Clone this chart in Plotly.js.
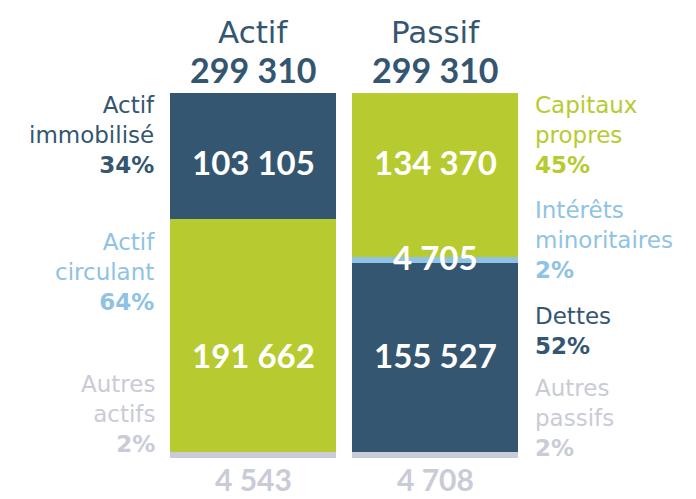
<!DOCTYPE html>
<html><head><meta charset="utf-8">
<script src="https://cdn.plot.ly/plotly-3.0.1.min.js"></script>
<style>html,body{margin:0;padding:0;background:#fff}</style>
</head><body><div id="chart" style="width:696px;height:499px"></div>
<script>
// ---- data ----
const columns = ['Actif', 'Passif'];
const actifSegments = ['Autres actifs', 'Actif circulant', 'Actif immobilisé'];
const actifValues = [4543, 191662, 103105];
const passifSegments = ['Autres passifs', 'Dettes', 'Intérêts minoritaires', 'Capitaux propres'];
const passifValues = [4708, 155527, 4705, 134370];
const leftLabels = [['Actif', 'immobilisé', '34%'], ['Actif', 'circulant', '64%'], ['Autres', 'actifs', '2%']];
const rightLabels = [['Capitaux', 'propres', '45%'], ['Intérêts', 'minoritaires', '2%'], ['Dettes', '52%'], ['Autres', 'passifs', '2%']];

// ---- style ----
const DARK = '#345670', GREEN = '#b7cb30', LBLUE = '#8fc2e4', GRAY = '#c9cbd6';
const actifColors = [GRAY, GREEN, DARK];
const passifColors = [GRAY, DARK, LBLUE, GREEN];
const leftColors = [DARK, LBLUE, GRAY];
const rightColors = [GREEN, LBLUE, DARK, GRAY];
const actifShift = [0, -19, -6];
const passifShift = [0, 2, 3, 13];
const NUMFONT = 'Lato, "DejaVu Sans", sans-serif';
const LABFONT = '"DejaVu Sans", Lato, sans-serif';
const fmt = v => String(v).replace(/\B(?=(\d{3})+(?!\d))/g, ' ');

const W = 696, H = 499, M = {l: 162, r: 170, t: 93, b: 41};
const ph = H - M.t - M.b, pw = W - M.l - M.r;
const pyP = p => (H - M.b - p) / ph;
const pxP = p => (p - M.l) / pw;

const traces = [];
actifSegments.forEach((s, i) => traces.push({type: 'bar', x: ['Actif'], y: [actifValues[i]], name: s,
  marker: {color: actifColors[i], line: {width: 0}}, width: 0.917, hoverinfo: 'none'}));
passifSegments.forEach((s, i) => traces.push({type: 'bar', x: ['Passif'], y: [passifValues[i]], name: s,
  marker: {color: passifColors[i], line: {width: 0}}, width: 0.917, hoverinfo: 'none'}));

const ann = [];
function cum(vals) { let c = 0; return vals.map(v => { const m = c + v / 2; c += v; return m; }); }
const aMid = cum(actifValues), pMid = cum(passifValues);
const inFont = {family: NUMFONT, size: 33, color: '#fff'};
[1, 2].forEach(i => ann.push({x: 'Actif', y: aMid[i], xref: 'x', yref: 'y', yanchor: 'middle', yshift: actifShift[i],
  text: '<b>' + fmt(actifValues[i]) + '</b>', showarrow: false, font: inFont}));
[1, 2, 3].forEach(i => ann.push({x: 'Passif', y: pMid[i], xref: 'x', yref: 'y', yanchor: 'middle', yshift: passifShift[i],
  text: '<b>' + fmt(passifValues[i]) + '</b>', showarrow: false, font: inFont}));
// bottom "autres" values
const botFont = {family: NUMFONT, size: 30, color: GRAY};
ann.push({x: 'Actif', y: 0, xref: 'x', yref: 'y', yanchor: 'top', yshift: -1, text: '<b>' + fmt(actifValues[0]) + '</b>',
  showarrow: false, font: botFont});
ann.push({x: 'Passif', y: 0, xref: 'x', yref: 'y', yanchor: 'top', yshift: -1, text: '<b>' + fmt(passifValues[0]) + '</b>',
  showarrow: false, font: botFont});
// headers
const totA = actifValues.reduce((a, b) => a + b, 0), totP = passifValues.reduce((a, b) => a + b, 0);
[[columns[0], totA], [columns[1], totP]].forEach(([c, t]) => {
  ann.push({x: c, xref: 'x', y: pyP(32), yref: 'paper', yanchor: 'middle', text: c, showarrow: false,
    font: {family: LABFONT, size: 31, color: DARK}});
  ann.push({x: c, xref: 'x', y: pyP(69), yref: 'paper', yanchor: 'middle', text: '<b>' + fmt(t) + '</b>', showarrow: false,
    font: {family: NUMFONT, size: 34, color: DARK}});
});
// side labels (one block per label)
const leftY = [135, 272, 414];
const rightY = [135, 240, 331, 418];
function side(labels, ys, colors, px, anchor) {
  labels.forEach((lines, i) => {
    const txt = lines.map((ln, j) => j === lines.length - 1 ? '<b>' + ln + '</b>' : ln).join('<br>');
    ann.push({x: pxP(px), xref: 'paper', y: pyP(ys[i]), yref: 'paper', xanchor: anchor, yanchor: 'middle',
      align: anchor, text: txt, showarrow: false, font: {family: LABFONT, size: 23, color: colors[i]}});
  });
}
side(leftLabels, leftY, leftColors, 157, 'right');
side(rightLabels, rightY, rightColors, 533, 'left');

Plotly.newPlot('chart', traces, {
  width: W, height: H, margin: M, barmode: 'stack', showlegend: false,
  paper_bgcolor: '#fff', plot_bgcolor: '#fff',
  xaxis: {visible: false, range: [-0.5, 1.5], type: 'category'},
  yaxis: {visible: false, range: [0, totA]},
  annotations: ann
}, {staticPlot: true});
</script></body></html>
